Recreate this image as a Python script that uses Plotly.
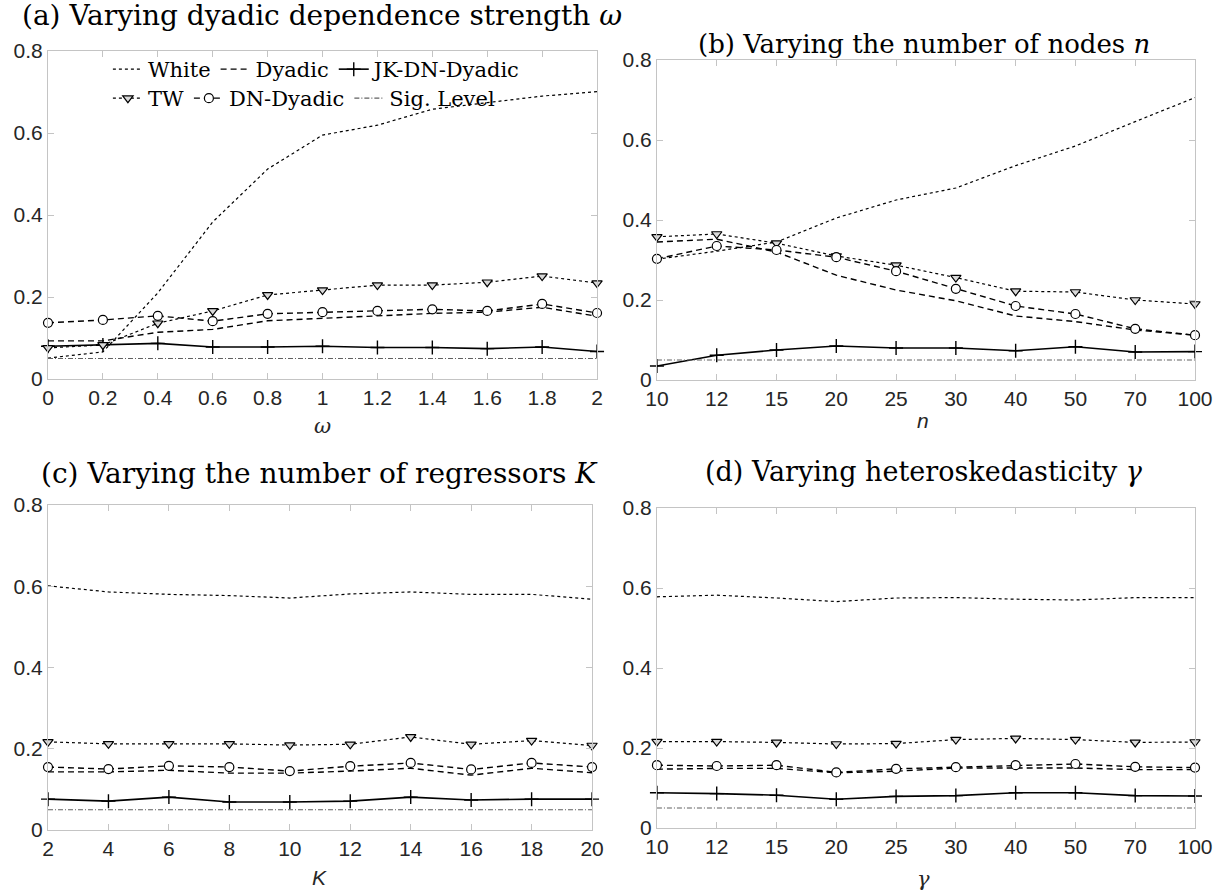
import plotly.graph_objects as go

W, H = 1225, 893
ML, MR, MT, MB = 48, 28, 51, 63

# ---- data ----
omega = [0, 0.2, 0.4, 0.6, 0.8, 1.0, 1.2, 1.4, 1.6, 1.8, 2.0]
nodes = ['10', '12', '15', '20', '25', '30', '40', '50', '70', '100']
regressors = [2, 4, 6, 8, 10, 12, 14, 16, 18, 20]
gammas = ['10', '12', '15', '20', '25', '30', '40', '50', '70', '100']
sig_level = 0.05

# (a) varying omega
a_white = [0.051, 0.066, 0.21, 0.383, 0.512, 0.595, 0.619, 0.658, 0.674, 0.690, 0.701]
a_dyadic = [0.093, 0.093, 0.114, 0.121, 0.142, 0.148, 0.155, 0.160, 0.163, 0.175, 0.153]
a_jk = [0.080, 0.083, 0.087, 0.078, 0.078, 0.080, 0.077, 0.077, 0.074, 0.078, 0.067]
a_tw = [0.076, 0.083, 0.136, 0.166, 0.205, 0.217, 0.229, 0.229, 0.236, 0.251, 0.234]
a_dn = [0.137, 0.144, 0.154, 0.141, 0.159, 0.163, 0.166, 0.170, 0.166, 0.183, 0.161]

# (b) varying n
b_white = [0.302, 0.322, 0.345, 0.405, 0.450, 0.480, 0.536, 0.585, 0.646, 0.706]
b_dyadic = [0.345, 0.352, 0.320, 0.262, 0.225, 0.198, 0.160, 0.146, 0.125, 0.112]
b_jk = [0.035, 0.062, 0.075, 0.085, 0.080, 0.080, 0.073, 0.083, 0.070, 0.071]
b_tw = [0.358, 0.365, 0.342, 0.310, 0.287, 0.256, 0.222, 0.220, 0.200, 0.190]
b_dn = [0.303, 0.335, 0.325, 0.307, 0.272, 0.228, 0.185, 0.165, 0.128, 0.112]

# (c) varying K
c_white = [0.601, 0.586, 0.580, 0.577, 0.571, 0.581, 0.586, 0.580, 0.580, 0.568]
c_dyadic = [0.143, 0.143, 0.147, 0.140, 0.140, 0.145, 0.152, 0.135, 0.152, 0.141]
c_jk = [0.076, 0.071, 0.081, 0.069, 0.069, 0.071, 0.081, 0.074, 0.076, 0.076]
c_tw = [0.217, 0.212, 0.212, 0.212, 0.209, 0.211, 0.229, 0.211, 0.220, 0.208]
c_dn = [0.155, 0.150, 0.158, 0.155, 0.145, 0.157, 0.165, 0.149, 0.165, 0.155]

# (d) varying gamma
d_white = [0.578, 0.582, 0.575, 0.566, 0.575, 0.576, 0.572, 0.570, 0.576, 0.576]
d_dyadic = [0.147, 0.149, 0.149, 0.138, 0.142, 0.150, 0.150, 0.150, 0.146, 0.146]
d_jk = [0.088, 0.086, 0.082, 0.072, 0.079, 0.081, 0.088, 0.088, 0.081, 0.080]
d_tw = [0.216, 0.216, 0.214, 0.210, 0.211, 0.221, 0.224, 0.221, 0.214, 0.215]
d_dn = [0.157, 0.155, 0.157, 0.139, 0.148, 0.152, 0.157, 0.160, 0.153, 0.151]

yticks = [0, 0.2, 0.4, 0.6, 0.8]


def px(x):
    return (x - ML) / (W - ML - MR)


def py(y):
    return (H - MB - y) / (H - MT - MB)


SERIF = 'DejaVu Serif'
SANS = 'Liberation Sans'

fig = go.Figure()

panels = [
    ('x', 'y', omega, a_white, a_dyadic, a_jk, a_tw, a_dn),
    ('x2', 'y2', nodes, b_white, b_dyadic, b_jk, b_tw, b_dn),
    ('x3', 'y3', regressors, c_white, c_dyadic, c_jk, c_tw, c_dn),
    ('x4', 'y4', gammas, d_white, d_dyadic, d_jk, d_tw, d_dn),
]

for i, (xr, yr, xs, white, dyadic, jk, tw, dn) in enumerate(panels):
    first = i == 0
    common = dict(xaxis=xr, yaxis=yr, cliponaxis=False)
    # row 1 of legend: White, Dyadic, JK-DN-Dyadic
    fig.add_trace(go.Scatter(x=xs, y=white, mode='lines', name='White',
                             line=dict(color='black', width=1.2, dash='dot'),
                             showlegend=first, legend='legend', **common))
    fig.add_trace(go.Scatter(x=xs, y=dyadic, mode='lines', name='Dyadic',
                             line=dict(color='black', width=1.4, dash='6px,4px'),
                             showlegend=first, legend='legend', **common))
    fig.add_trace(go.Scatter(x=xs, y=jk, mode='lines+markers', name='JK-DN-Dyadic',
                             line=dict(color='black', width=1.6),
                             marker=dict(symbol='cross-thin', size=10,
                                         line=dict(color='black', width=1.4)),
                             showlegend=first, legend='legend', **common))
    # row 2 of legend: TW, DN-Dyadic, Sig. Level
    fig.add_trace(go.Scatter(x=xs, y=tw, mode='lines+markers', name='TW',
                             line=dict(color='black', width=1.2, dash='dot'),
                             marker=dict(symbol='triangle-down', size=9, color='#d9d9d9',
                                         line=dict(color='black', width=1.2)),
                             showlegend=first, legend='legend2', **common))
    fig.add_trace(go.Scatter(x=xs, y=dn, mode='lines+markers', name='DN-Dyadic',
                             line=dict(color='black', width=1.4, dash='6px,4px'),
                             marker=dict(symbol='circle', size=9, color='white',
                                         line=dict(color='black', width=1.2)),
                             showlegend=first, legend='legend2', **common))
    fig.add_trace(go.Scatter(x=[xs[0], xs[-1]], y=[sig_level, sig_level], mode='lines',
                             name='Sig. Level',
                             line=dict(color='#606060', width=1.1, dash='5px,2px,1px,2px'),
                             showlegend=first, legend='legend2', **common))

axis_common = dict(showgrid=False, zeroline=False, showline=True, linecolor='#c4c4c4',
                   linewidth=1, mirror='ticks', ticks='inside', ticklen=6,
                   tickcolor='#c4c4c4', tickfont=dict(family=SANS, size=21, color='#262626'))

fig.update_layout(
    width=W, height=H,
    margin=dict(l=ML, r=MR, t=MT, b=MB),
    paper_bgcolor='white', plot_bgcolor='white',
    xaxis=dict(domain=[px(48), px(598)], range=[0, 2], tickvals=omega, anchor='y', **axis_common),
    yaxis=dict(domain=[py(379), py(51)], range=[0, 0.8], tickvals=yticks, anchor='x', **axis_common),
    xaxis2=dict(domain=[px(658), px(1197)], type='category', range=[0, 9], anchor='y2', **axis_common),
    yaxis2=dict(domain=[py(380), py(60)], range=[0, 0.8], tickvals=yticks, anchor='x2', **axis_common),
    xaxis3=dict(domain=[px(48), px(593)], range=[2, 20], tickvals=regressors, anchor='y3', **axis_common),
    yaxis3=dict(domain=[py(830), py(505)], range=[0, 0.8], tickvals=yticks, anchor='x3', **axis_common),
    xaxis4=dict(domain=[px(658), px(1197)], type='category', range=[0, 9], anchor='y4', **axis_common),
    yaxis4=dict(domain=[py(828), py(508)], range=[0, 0.8], tickvals=yticks, anchor='x4', **axis_common),
    legend=dict(orientation='h', x=px(108), y=py(49), xanchor='left', yanchor='top',
                bgcolor='rgba(0,0,0,0)', itemwidth=30, tracegroupgap=0,
                font=dict(family=SERIF, size=21, color='black')),
    legend2=dict(orientation='h', x=px(108), y=py(78), xanchor='left', yanchor='top',
                 bgcolor='rgba(0,0,0,0)', itemwidth=30, tracegroupgap=0,
                 font=dict(family=SERIF, size=21, color='black')),
)

titles = [
    ('(a) Varying dyadic dependence strength <i>ω</i>', 322, 15, 28),
    ('(b) Varying the number of nodes <i>n</i>', 926, 44, 26),
    ('(c) Varying the number of regressors <i>K</i>', 320, 473, 28),
    ('(d) Varying heteroskedasticity <i>γ</i>', 926, 471, 27),
]
for text, cx, cy, size in titles:
    fig.add_annotation(text=text, x=px(cx), y=py(cy), xref='paper', yref='paper',
                       xanchor='center', yanchor='middle', showarrow=False,
                       font=dict(family=SERIF, size=size, color='black'))

axis_labels = [
    ('<i>ω</i>', 323, 426, SERIF),
    ('<i>n</i>', 925, 420, SANS),
    ('<i>K</i>', 320, 877, SANS),
    ('<i>γ</i>', 925, 879, SERIF),
]
for text, cx, cy, fam in axis_labels:
    fig.add_annotation(text=text, x=px(cx), y=py(cy), xref='paper', yref='paper',
                       xanchor='center', yanchor='middle', showarrow=False,
                       font=dict(family=fam, size=21, color='#262626'))

# the page's default body margin would push the figure 8px right and down
fig.write_html("out.html", config={'displayModeBar': False},
               post_script="document.body.style.margin='0';")
